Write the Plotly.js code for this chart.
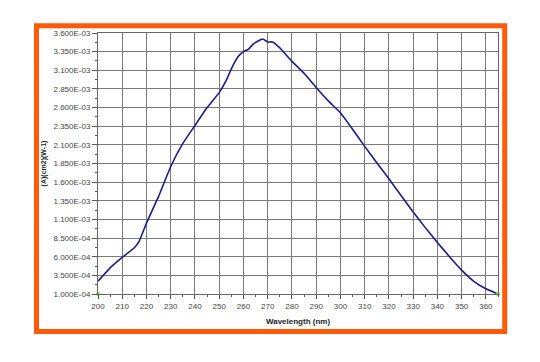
<!DOCTYPE html>
<html>
<head>
<meta charset="utf-8">
<script src="https://cdn.plot.ly/plotly-3.0.1.min.js"></script>
<style>
html,body{margin:0;padding:0;background:#fff;}
#chart{width:540px;height:362px;}
</style>
</head>
<body>
<div id="chart"></div>
<script>
var wavelength = [200,205,210,215,217,220,225,230,235,240,245,250,253,255,258,260,262,264,267,268,270,272,275,280,285,290,295,300,305,310,315,320,325,330,335,340,345,350,355,360,365];
var absorbance = [0.00027,0.00045,0.00059,0.00072,0.00081,0.00105,0.00141,0.00181,0.00212,0.00236,0.00260,0.00280,0.00297,0.00312,0.00329,0.00335,0.00338,0.00345,0.00351,0.00352,0.00348,0.00348,0.00340,0.00322,0.00306,0.00287,0.00269,0.00253,0.00231,0.00208,0.00186,0.001645,0.00142,0.00120,0.00099,0.00079,0.00060,0.00042,0.00027,0.00017,0.00010];
var endX = [200,365];
var endY = [0.0001,0.0001];
var yTickVals = [0.0001,0.00035,0.0006,0.00085,0.0011,0.00135,0.0016,0.00185,0.0021,0.00235,0.0026,0.00285,0.0031,0.00335,0.0036];
var yTickText = ["1.000E-04","3.500E-04","6.000E-04","8.500E-04","1.100E-03","1.350E-03","1.600E-03","1.850E-03","2.100E-03","2.350E-03","2.600E-03","2.850E-03","3.100E-03","3.350E-03","3.600E-03"];
var xTickVals = [200,210,220,230,240,250,260,270,280,290,300,310,320,330,340,350,360];

var traces = [
  {x: wavelength, y: absorbance, type: 'scatter', mode: 'lines',
   line: {color: '#1c1c8a', width: 1.6, shape: 'spline', smoothing: 0.3}, hoverinfo: 'x+y'},
  {x: endX, y: endY, type: 'scatter', mode: 'markers', cliponaxis: false,
   marker: {color: '#7ad943', size: 4}, hoverinfo: 'skip'}
];

var tickFont = {family: 'Arial, Liberation Sans, sans-serif', size: 8, color: '#444'};
var layout = {
  width: 540, height: 362,
  margin: {l: 98, r: 42, t: 33, b: 68},
  paper_bgcolor: '#ffffff', plot_bgcolor: '#ffffff',
  showlegend: false,
  xaxis: {
    range: [200, 365], tickvals: xTickVals, ticks: 'outside', ticklen: 4, tickcolor: '#555',
    tickfont: tickFont, showgrid: true, gridcolor: '#7a7a7a', gridwidth: 1,
    showline: true, linecolor: '#666', linewidth: 1, mirror: true, zeroline: false,
    minor: {tick0: 205, dtick: 10, ticks: 'outside', ticklen: 2, tickcolor: '#555', showgrid: false},
    title: {text: '<b>Wavelength (nm)</b>', font: {family: 'Arial, Liberation Sans, sans-serif', size: 8, color: '#222'}, standoff: 8}
  },
  yaxis: {
    range: [0.0001, 0.0036], tickvals: yTickVals, ticktext: yTickText, ticks: 'outside', ticklen: 5, tickcolor: '#555',
    tickfont: tickFont, showgrid: true, gridcolor: '#7a7a7a', gridwidth: 1,
    showline: true, linecolor: '#666', linewidth: 1, mirror: true, zeroline: false,
    minor: {tick0: 0.0001, dtick: 0.000125, ticks: 'outside', ticklen: 2, tickcolor: '#555', showgrid: false},
    title: {text: '<b>(A)(cm2)(W-1)</b>', font: {family: 'Arial, Liberation Sans, sans-serif', size: 7, color: '#222'}, standoff: 6}
  },
  shapes: [
    {type: 'rect', xref: 'paper', yref: 'paper', x0: -0.1538, x1: 1.0168, y0: -0.1437, y1: 1.0276,
     line: {color: '#ff5a0a', width: 5}, fillcolor: 'rgba(0,0,0,0)', layer: 'below'}
  ]
};

Plotly.newPlot('chart', traces, layout, {displayModeBar: false, staticPlot: true});
</script>
</body>
</html>
